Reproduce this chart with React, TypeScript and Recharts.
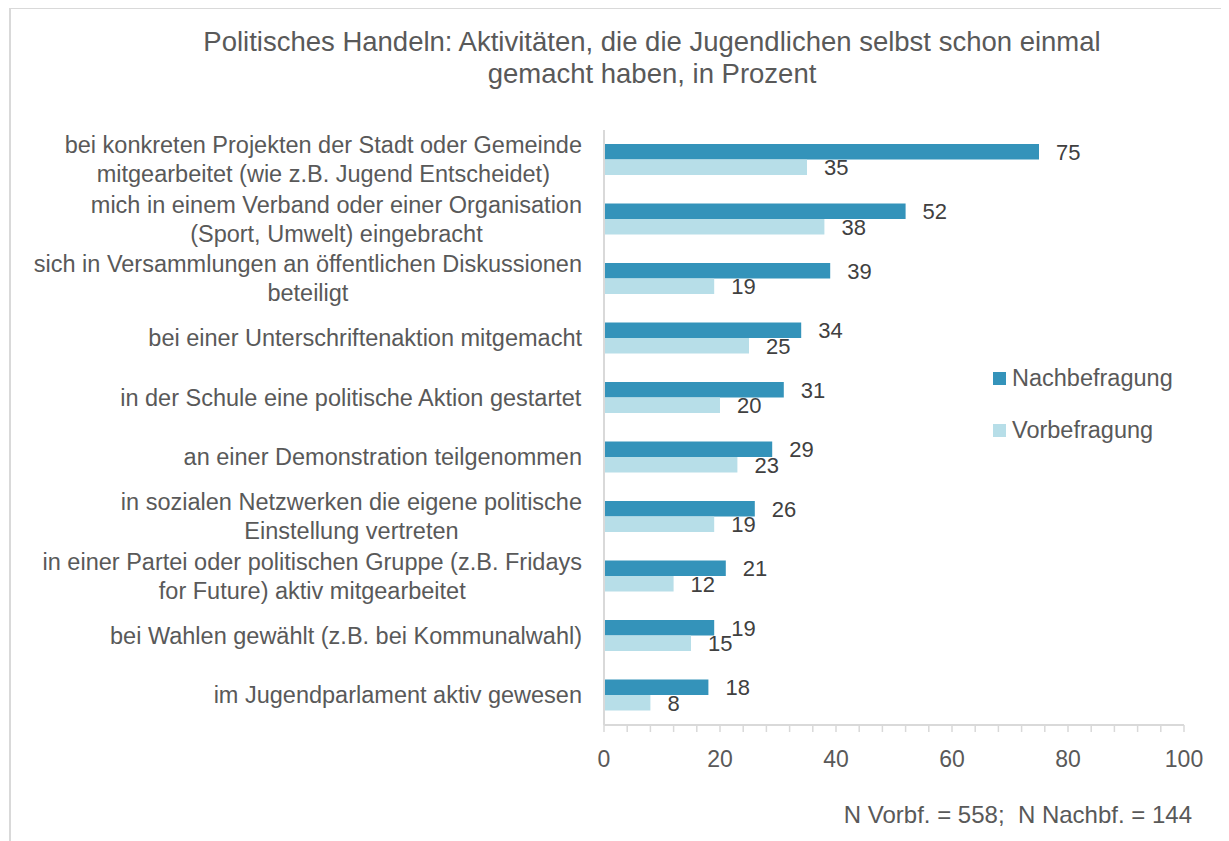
import React from "react";
import { BarChart, Bar, XAxis, YAxis, LabelList } from "recharts";

const categories = [
  "bei konkreten Projekten der Stadt oder Gemeinde\nmitgearbeitet (wie z.B. Jugend Entscheidet)",
  "mich in einem Verband oder einer Organisation\n(Sport, Umwelt) eingebracht",
  "sich in Versammlungen an öffentlichen Diskussionen\nbeteiligt",
  "bei einer Unterschriftenaktion mitgemacht",
  "in der Schule eine politische Aktion gestartet",
  "an einer Demonstration teilgenommen",
  "in sozialen Netzwerken die eigene politische\nEinstellung vertreten",
  "in einer Partei oder politischen Gruppe (z.B. Fridays\nfor Future) aktiv mitgearbeitet",
  "bei Wahlen gewählt (z.B. bei Kommunalwahl)",
  "im Jugendparlament aktiv gewesen",
];
const nachbefragung = [75, 52, 39, 34, 31, 29, 26, 21, 19, 18];
const vorbefragung = [35, 38, 19, 25, 20, 23, 19, 12, 15, 8];
const xTicks = [0, 4, 8, 12, 16, 20, 24, 28, 32, 36, 40, 44, 48, 52, 56, 60, 64, 68, 72, 76, 80, 84, 88, 92, 96, 100];
const xTickLabels = [0, 20, 40, 60, 80, 100];

const data = categories.map((c, i) => ({
  category: c,
  Nachbefragung: nachbefragung[i],
  Vorbefragung: vorbefragung[i],
}));

const FONT = '"Liberation Sans", Arial, sans-serif';
const TEXT = "#595959";
const GRID = "#d9d9d9";
const DARK = "#3493ba";
const LIGHT = "#b7dee8";
const LABEL_SIZE = 23.5;

let ctx: CanvasRenderingContext2D | null = null;
const measure = (t: string) => {
  if (!ctx) ctx = document.createElement("canvas").getContext("2d");
  if (!ctx) return t.length * 11;
  ctx.font = `${LABEL_SIZE}px ${FONT}`;
  return ctx.measureText(t).width;
};

// eslint-disable-next-line @typescript-eslint/no-explicit-any
const CategoryTick = (props: any) => {
  const { x, y, payload } = props;
  const lines = String(payload.value).split("\n");
  const w = Math.max(...lines.map(measure));
  const cx = x - w / 2;
  return (
    <g>
      {lines.map((l, i) => (
        <text
          key={i}
          x={cx}
          y={y + (i - (lines.length - 1) / 2) * 29}
          textAnchor="middle"
          dominantBaseline="central"
          fontSize={LABEL_SIZE}
          fontFamily={FONT}
          fill={TEXT}
        >
          {l}
        </text>
      ))}
    </g>
  );
};

const App = () => {
  return (
    <div style={{ position: "relative", width: 1221, height: 833, fontFamily: FONT, color: TEXT }}>
      <div style={{ position: "absolute", left: 1, top: -1, width: 1240, height: 2, background: GRID }} />
      <div style={{ position: "absolute", left: 1, top: -1, width: 2, height: 850, background: GRID }} />

      <div
        style={{
          position: "absolute",
          left: 644,
          top: 18,
          transform: "translateX(-50%)",
          whiteSpace: "nowrap",
          textAlign: "center",
          fontSize: 27.5,
          lineHeight: "32px",
        }}
      >
        Politisches Handeln: Aktivitäten, die die Jugendlichen selbst schon einmal
        <br />
        gemacht haben, in Prozent
      </div>

      <BarChart
        width={1221}
        height={833}
        data={data}
        layout="vertical"
        barSize={15.5}
        barGap={0}
        margin={{ top: 122, right: 45, bottom: 76, left: 0 }}
      >
        <XAxis
          type="number"
          domain={[0, 100]}
          ticks={xTicks}
          interval={0}
          height={40}
          tickSize={7}
          tickMargin={19}
          axisLine={{ stroke: GRID, strokeWidth: 2 }}
          tickLine={{ stroke: GRID, strokeWidth: 1.5 }}
          tickFormatter={(v: number) => (xTickLabels.includes(v) ? String(v) : "")}
          tick={{ fill: TEXT, fontSize: 23, fontFamily: FONT }}
        />
        <YAxis
          type="category"
          dataKey="category"
          width={596}
          interval={0}
          tickSize={0}
          tickMargin={22}
          axisLine={{ stroke: GRID, strokeWidth: 2 }}
          tickLine={false}
          tick={<CategoryTick />}
        />
        <Bar dataKey="Nachbefragung" fill={DARK} isAnimationActive={false}>
          <LabelList
            dataKey="Nachbefragung"
            position="right"
            offset={17}
            fill="#404040"
            fontSize={22}
            fontFamily={FONT}
          />
        </Bar>
        <Bar dataKey="Vorbefragung" fill={LIGHT} isAnimationActive={false}>
          <LabelList
            dataKey="Vorbefragung"
            position="right"
            offset={17}
            fill="#404040"
            fontSize={22}
            fontFamily={FONT}
          />
        </Bar>
      </BarChart>

      <div style={{ position: "absolute", left: 985, top: 355, fontSize: 23.5, lineHeight: "30px" }}>
        {[
          { name: "Nachbefragung", color: DARK },
          { name: "Vorbefragung", color: LIGHT },
        ].map((s, i) => (
          <div key={s.name} style={{ display: "flex", alignItems: "center", marginTop: i === 0 ? 0 : 22 }}>
            <span style={{ display: "inline-block", width: 13, height: 13, background: s.color, marginRight: 6 }} />
            <span>{s.name}</span>
          </div>
        ))}
      </div>

      <div
        style={{
          position: "absolute",
          right: 37,
          top: 792,
          whiteSpace: "pre",
          fontSize: 24,
          lineHeight: "30px",
        }}
      >
        {"N Vorbf. = 558;  N Nachbf. = 144"}
      </div>
    </div>
  );
};

export default App;
